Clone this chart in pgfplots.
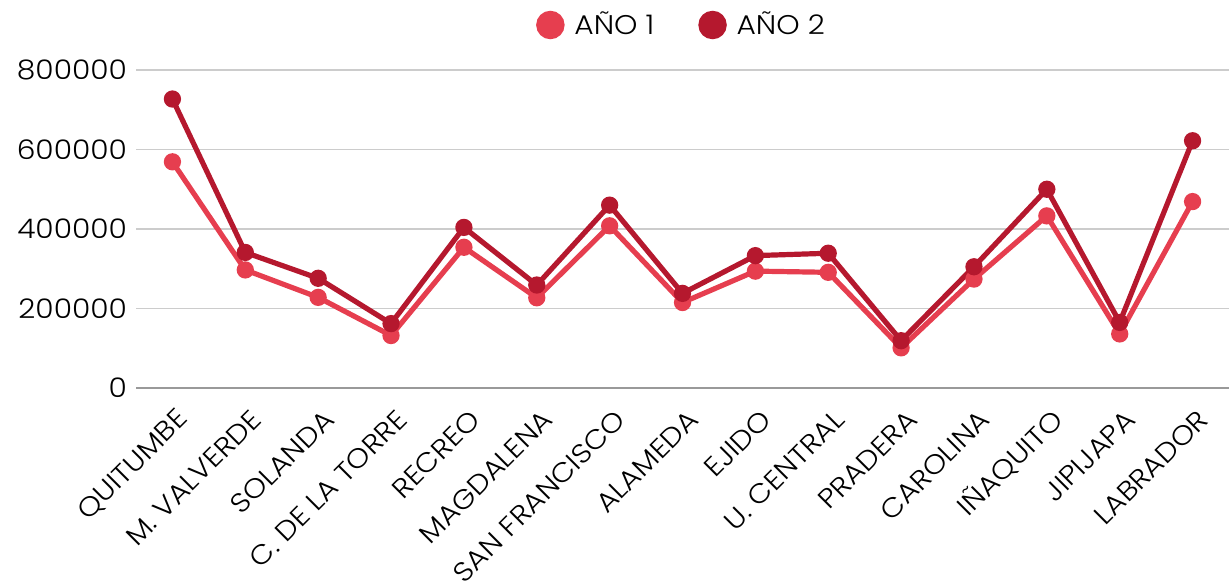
\documentclass[border=0pt]{standalone}
\usepackage{fontspec}
\setmainfont{Poppins}[UprightFont=* Light, FakeStretch=1.1]
\usepackage{pgfplots}
\pgfplotsset{compat=1.18}
\definecolor{anio1}{HTML}{E63E4F}
\definecolor{anio2}{HTML}{B5182E}
\definecolor{gridgray}{HTML}{CCCCCC}

\pgfplotstableread{
x y1 y2
0 569000 727000
1 297000 341000
2 228000 276000
3 132000 162000
4 354000 404000
5 227000 259000
6 408000 460000
7 215000 238000
8 294000 333000
9 291000 339000
10 101000 119000
11 274000 305000
12 433000 500000
13 136000 165000
14 469000 622000
}\datos

\begin{document}
\begin{tikzpicture}
\useasboundingbox (0,0) rectangle (614.5pt,290.5pt);
\begin{axis}[
    at={(68pt,96.5pt)}, anchor=south west,
    scale only axis,
    width=546.5pt, height=159pt,
    xmin=-0.5, xmax=14.5,
    ymin=0, ymax=800000,
    ytick={0,200000,400000,600000,800000},
    scaled y ticks=false,
    /pgf/number format/assume math mode=true,
    yticklabel style={/pgf/number format/fixed, /pgf/number format/1000 sep={}, font=\fontsize{13.5}{15}\selectfont, xshift=-1pt},
    xtick=data,
    xticklabels={QUITUMBE, M. VALVERDE, SOLANDA, C. DE LA TORRE, RECREO, MAGDALENA, SAN FRANCISCO, ALAMEDA, EJIDO, U. CENTRAL, PRADERA, CAROLINA, IÑAQUITO, JIPIJAPA, LABRADOR},
    xticklabel style={xshift=8pt, yshift=-11pt, rotate=45, anchor=east, font=\fontsize{13.5}{15}\selectfont},
    major tick length=0pt,
    axis x line*=bottom,
    axis y line*=left,
    y axis line style={draw=none},
    x axis line style={draw=gray!80, line width=0.8pt},
    ymajorgrids,
    grid style={gridgray, line width=0.8pt},
    legend style={at={(0.5,1.1415)}, anchor=center, draw=none, legend columns=2,
        font=\fontsize{13.5}{15}\selectfont,
        /tikz/every even column/.append style={column sep=20pt}},
    legend image code/.code={\fill[#1] (0.2cm,0) circle (5.8pt); \path[draw=none] (0,0) -- (0.2cm+10pt,0);},
]
\addplot[anio1, line width=2.6pt, mark=*, mark size=3pt, mark options={fill=anio1, draw=anio1}] table[x=x, y=y1] {\datos};
\addlegendentry{AÑO 1}
\addplot[anio2, line width=2.6pt, mark=*, mark size=3pt, mark options={fill=anio2, draw=anio2}] table[x=x, y=y2] {\datos};
\addlegendentry{AÑO 2}
\end{axis}
\end{tikzpicture}
\end{document}
